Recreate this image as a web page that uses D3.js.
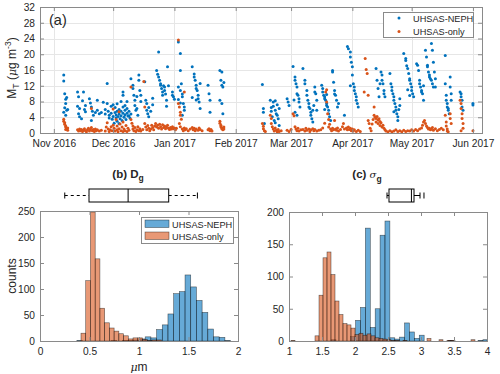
<!DOCTYPE html>
<html><head><meta charset="utf-8">
<script src="https://cdn.jsdelivr.net/npm/d3@7"></script>
<style>
body{margin:0;background:#fff;}
svg{display:block;font-family:"Liberation Sans",Arial,sans-serif;}
</style></head>
<body><svg id="c" width="500" height="374"></svg>
<script>
// ---------------- DATA ----------------
// panel (a): [days since 2016-11-01, M_T]
const seriesNames = ["UHSAS-NEPH","UHSAS-only"];
const monthTicks = ["2016-11-01","2016-12-01","2017-01-01","2017-02-01","2017-03-01","2017-04-01","2017-05-01","2017-06-01"];
const massTicks = [0,4,8,12,16,20,24,28,32];
const nephPts = [
[5,14.7],[5,13.2],[5.5,10],[6,8.6],[6,7.5],[5.5,6.4],[6.5,5.8],[5,5.3],[6,4.5],[7,6],[6.5,9],
[12,10.4],[12.5,9.2],[12,6.8],[13,6.2],[12.5,4.9],[13,4.1],[14,3.6],[15,10.4],[15.5,6],[16,5.4],[14.5,8.2],[16,7],
[18,8.7],[18.5,7.6],[19,6.6],[19.5,5.5],[20,4.5],[19,3.2],[21,5.2],[22,5.8],[22,8.3],[23,4.9],[24,5.2],
[25,7.8],[26,6],[26,4.8],[27,12.6],[27,7.5],[27.5,5.5],[28,4.5],[28,3.8],[29,6.8],[29,5],[29.5,3.5],[30,7.2],[30,4.2],[30.5,2.5],
[31,6.5],[31,5.2],[31.5,4.6],[31.5,3.8],[32,7.4],[32,5.5],[32,3],[32.5,4.2],[33,6],[33,4.8],[33,2.4],[33.5,3.6],[34,8],[34,5.5],[34,4.4],[34.5,3.2],[35,10.4],[35,9.6],[35,6.6],[35,5],[35.5,4],[36,7],[36,5.8],[36,4.6],[36.5,3.4],[37,8],[37,6.2],[37,5],[37.5,4.3],[38,5.5],[38,4.4],[38.5,3.8],[39,4.8],
[39,13.8],[40,12.1],[40,11.3],[40.5,9.6],[41,8.3],[41,7],[41.5,5.8],[42,9.3],[42,6.2],[42.5,4.5],[43,14.7],[43,13.4],[43.5,10.8],[44,9.6],[44,8],
[46,13],[46.5,8.3],[47,7.5],[47,5.8],[47.5,4.9],[48,4.1],[48,6.5],[49,5.5],[50,8.8],[50,7.2],
[52,15.9],[52.5,14.9],[53,20.6],[53,14.2],[53.5,13.4],[54,12.5],[54,12.1],[54.5,11.3],[55,10.4],[55,9.6],[55.5,12],[56,11.7],[56,10.8],[56.5,9.9],[57,8.3],[57,6.8],[57.5,16.8],[58,12],
[60,10.4],[60,9.6],[60.5,9.2],[61,8.6],
[63,23.1],[64,20.2],[64,15.9],[64.5,12.5],[63,11.7],[64,10.8],[65,9.9],[65,9.2],[65.5,7.5],[66,6.6],[66,5.8],[65,4.5],[64,7.6],[63,8.5],
[70,16.8],[71,15],[71,14.2],[71.5,13.4],[72,12.1],[72,11.3],[72.5,10.8],[73,9.6],[73,8.7],[73.5,7.9],[74,6.2],[74,12.6],[70,9],[72,8.4],
[78,12.1],[78.5,10],[79,8.3],[79,5.3],
[84,15.9],[85,15.5],[84.5,13.4],[85,12.1],[85.5,11.7],[84,8.3],[85,7.5],[85.5,4.9],[86,12.8],
[105.5,12.3],[106,6.2],[106,5.3],[106.5,2.4],
[109.5,8.3],[110,6.5],[110,5.5],[110.5,4.1],[111,7.9],[111,6.8],[111.5,3.2],[112,8.2],[112,5.8],[112.5,4.9],[113,7.2],[113,4.5],[113.5,3.6],[114,6.2],[114,1.9],[112,2.6],
[118,8.7],[118.5,7.9],[119,7],
[121,16.9],[122,14.2],[122,13.4],[122.5,12.5],[123,11.7],[123,10],[123.5,9.6],[124,8.7],[124,7.9],[124.5,6.6],[122,5.3],[123,4.5],[121.5,8.4],
[126,16.4],[127,13.4],[127,12.5],[128,10.8],[128,9.6],[128.5,8.3],[129,7.5],[129,6.6],[129.5,6.2],[130,5.3],[130,4.5],[130.5,3.6],[131,2.8],[131,5.8],[132,11.7],[132,10.4],[132.5,10],[133,8.3],[133,5.8],[131.5,7],
[135.5,12.1],[136,11.3],[136,10.4],[136.5,9.6],[137,9.2],[137,8.7],[137.5,8.3],[138,7.5],[138,7],[138.5,6.6],[139,5.8],[139,4.9],[139.5,4.1],[140,3.2],[137,6],[138,9.8],
[141,15.9],[141,15.5],[141.5,12.9],[142,10.8],[142,9.9],[142.5,9.6],[143,8.3],[143.5,6.6],[144,7.5],
[147,4.5],
[148.5,22],[149,21.4],[150,20.6],[150,19.3],[150.5,18],[151,16.8],[151,14.7],[151.5,12.5],[152,11.7],[152,10.8],[152.5,10],[153,9.2],[153,8.3],[153.5,7.5],[154,6.6],[150,12],
[163,16.4],[163.5,13.4],[164,11.3],[164.5,9.2],[165,12.5],[165.5,15.5],[166,14.7],[166,13.4],[166.5,12.5],[167,10.8],[167,10],[167.5,9.2],
[170,15.1],[170.5,12.5],[171,11.7],[171,10.8],[171.5,10],[172,9.2],[172,8.3],[172.5,7.5],[173,6.6],[173,5.8],[173.5,4.9],[174,4.1],[174,3.2],[175,8.7],[175,7],[174.5,6],[172,5.4],
[177,20.2],[178,18.9],[178,18.4],[178.5,17.1],[179,16.4],[179.5,15.1],[180,13.8],[180,13.4],[180.5,12.5],[181,11.7],[181,10.8],[181.5,10],[182,9.2],[179,11],[180,9.5],
[183.5,17.6],[184,17.2],[184.5,15.9],[185,13.4],[185,12.5],[185.5,11.7],[186,10.8],[186,10.4],[186.5,10],[187,8.3],[187,12],
[188,21],[188.5,19.3],[189,17.2],[189,16.8],[189.5,15.5],[190,14.7],[190,14.2],[190.5,13.8],[191,13.4],[191.5,12.5],[192,11.7],[191,22.7],[191.5,21],[192,18],[192.5,15.5],[193,13.8],[193,11.7],
[198,19.7],[198,12.5],[198.5,9.6],[198.5,8.3],[199,7.5],[199,6.6],[199.5,6.2],[199.5,5.8],[200,4.9],[200.5,14.2],[200.5,11.7],[201,10],[201,8.3],
[205.5,10.4],[206,10],[206,9.2],[206.5,8.3],[206.5,6.6],[207,5.8],
[212,7.5],[212,7.1]
];
const onlyPts = [
[5,3.5],[5,3],[5.5,2.6],[5.5,2.2],[6,1.8],[6,1.5],[6.5,1.2],[6,0.9],[7,0.7],[7,1.3],
[12,0.8],[12.5,0.5],[13,1],[13.5,0.6],[14,0.9],[14.5,0.4],[15,0.7],[15.5,1.1],[16,0.6],[16.5,0.3],[17,0.8],[17.5,1.2],[18,0.5],[18.5,0.9],[19,6.2],[19,1.4],[19.5,0.6],[20,0.9],[20.5,0.4],[21,1],[21.5,0.6],[22,0.8],[23,0.5],[24,0.7],
[26,0.5],[26.5,1.5],[27,2.6],[27.5,1],[28,0.4],[28.5,0.8],[29,1.6],[29.5,0.6],[30,6.1],[30,2],[30.5,1.2],[31,0.5],[31.5,3.4],[32,1.8],[32,0.8],[32.5,0.3],[33,5.4],[33,1.1],[33.5,2.3],[34,0.6],[34.5,1.5],[35,0.4],[35,2.8],[35.5,1],[36,0.6],[36.5,1.9],[37,0.4],[37.5,1.2],[38,0.7],
[39,11.7],[39,3.4],[39.5,2.5],[40,1.8],[40,1],[40.5,0.6],[41,1.4],[41.5,0.4],[42,0.8],[42.5,1.6],[43,0.6],[43.5,1.1],[44,0.5],[45,0.9],[45.5,13.1],[46,6.6],[46,2.4],[46.5,1.5],[47,0.8],[47.5,1.9],[48,1.2],[48.5,0.6],[49,1],[49.5,2],[50,1.4],[50.5,0.8],
[51,1.8],[51.5,2.4],[52,1.5],[52.5,2],[53,1.2],[53.5,2.2],[54,1.6],[54.5,1],[55,2.1],[55.5,1.4],[56,1.8],[56.5,1.1],[57,1.5],[57.5,2],[58,1.2],[58.5,0.9],[59,1.4],[59.5,1],[60,1.6],[60.5,1.1],[61,1.3],[61.5,0.8],[62,1.2],
[63,23.6],[63,7.5],[63.5,6.6],[64,5.3],[64,4.5],[64.5,3.5],[63.5,2.4],[64,1.6],[65,1],[65.5,0.6],[66,10.4],[66,1.3],[66.5,0.8],[67,1.1],
[68,0.6],[69,1],[70,1.4],[70.5,0.8],[71,1.2],[71.5,0.6],[72,1],[73,0.7],[73.5,1.3],[74,0.9],[75,0.6],[78,0.8],[78.5,1.1],[79,0.6],[79.5,0.9],[80,0.5],
[84,3],[84,2.5],[84.5,2],[84.5,1.6],[85,1.3],[85,1.1],[85.5,0.8],[86,1.5],[86,1],
[105.5,2.4],[106,1.7],[106,1.1],[106.5,0.6],[107,0.4],
[109.5,4.5],[110,3.7],[110,2.4],[110.5,1.6],[111,1],[111.5,0.5],[112,1.3],[112.5,0.7],[113,0.3],[113.5,0.9],[114,0.4],[115,0.6],
[118,0.7],[119,0.4],[120,0.9],[121,4.9],[121.5,4.4],[122,1.6],[122.5,1],[123,0.6],[123.5,1.2],[124,0.5],[125,0.8],
[126,0.9],[127,0.5],[127.5,1.2],[128,0.7],[129,1],[129.5,0.4],[130,0.8],[131,1.1],[131.5,0.6],[132,0.9],[133,0.5],[134,0.7],
[135,0.8],[136,1.3],[137,2.5],[137.5,10.4],[138,11],[138,7.9],[138.5,4.9],[139,3.4],[139.5,2.2],[139,1.5],[140,1],[140.5,0.6],[141,1.2],[141.5,0.8],[142,3.2],[142.5,1],[143,0.7],[143.5,1.3],[144,0.5],[145,0.9],[146,1.6],[146.5,2.4],[147,1],
[148,1.3],[148.5,0.8],[149,1.5],[149.5,0.9],[150,1.2],[150.5,0.6],[151,1],[151.5,0.5],[152,0.8],[153,0.4],[154,0.7],[155,0.4],
[157,10.4],[157.5,18.9],[158,16.1],[158.5,15.1],[159,9.6],[159,3.2],[159.5,2.4],[160,1.2],[160.5,0.6],
[161,2.3],[161.5,3.4],[162,4.5],[162,6.6],[162.5,4],[163,3.7],[163,2.8],[163.5,4.2],[164,3.3],[164,2.4],[164.5,3.6],[165,2.9],[165,1.9],[165.5,2.6],[166,1.5],[166.5,2],[167,1.2],[167.5,0.8],[168,0.5],
[169,0.3],[170,0.6],[171,0.3],[172,0.5],[173,0.8],[174,0.4],[175,0.6],[176,0.3],[177,0.7],[178,0.4],[179,0.6],[180,0.5],[181,0.8],
[182,0.5],[183,0.9],[184,0.6],[185,1],[186,1.3],[186.5,2],[187,2.8],[187.5,3.2],[188,2.4],[188.5,1.8],[189,1.4],[189.5,1],[190,1.2],[190.5,0.8],[191,1],[191.5,1.4],[192,0.7],[193,1.1],[194,0.6],[195,0.9],[196,1.2],[197,0.8],
[198,4.5],[198.5,2.8],[198.5,1.8],[199,1],[199,0.5],[199.5,0.3],[200.5,4.9],[200.5,3.7],[201,2.4],
[205.5,8.3],[206,7.5],[206,6.2],[206.5,4.9],[206.5,3.7],[207,2.4],[207,1.2],[206,0.6],
[212,0.6]
];

// panel (b): D_g histograms (bin start, bin width, counts)
const dgNephStart = 0.3725, dgNephWidth = 0.0575;
const dgNephCounts = [1,0,0,0,0,0,1,0,1,1,2,4,8,6,22,31,52,91,95,127,104,78,55,23,8,7,1];
const dgOnlyStart = 0.414, dgOnlyWidth = 0.0478;
const dgOnlyCounts = [15,116,248,158,63,35,25,19,14,10,4,6,6,3,1,2,2];
const dgXTicks = [0,0.5,1,1.5,2];
const dgYTicks = [0,50,100,150,200,250];
const dgBox = {lo:0.25, q1:0.495, med:0.89, q3:1.30, hi:1.59};

// panel (c): sigma_g histograms
const sgNephStart = 1.638, sgNephWidth = 0.0742;
const sgNephCounts = [2,0,0,0,7,32,52,175,21,50,164,186,5,3,6,28,14,4,9,0,0,0,0,0,1,0,0,0,0,0,1,2];
const sgOnlyStart = 1.0304, sgOnlyWidth = 0.0606;
const sgOnlyCounts = [1,0,0,0,0,0,8,71,129,138,103,62,41,27,25,20,10,12,9,11,8,5,4,3,2,1,1,0,1,0,0,0,0,0,4,0,0,2,0,1,1,0,0,0,0,2];
const sgXTicks = [1,1.5,2,2.5,3,3.5,4];
const sgYTicks = [0,50,100,150,200];
const sgBox = {lo:2.485, q1:2.515, med:2.855, q3:2.894, hi:2.985, out:3.045};

// ---------------- DRAW ----------------
const svg = d3.select("#c");
const C_BLUE = "#0072BD", C_ORANGE = "#D95319";
const AX = "#8a8a8a", TXT = "#262626", GRID = "#e6e6e6";
const TICK_FS = 10.2, LEG_FS = 9.2;

// ---- panel (a)
const base = Date.UTC(2016,10,1);
const dayToDate = d => new Date(base + d*864e5);
const xa = d3.scaleUtc().domain([Date.UTC(2016,9,25), Date.UTC(2017,5,5,14)]).range([40,482]);
const ya = d3.scaleLinear().domain([0,32]).range([133,7]);
const ga = svg.append("g");
const mt = monthTicks.map(s => new Date(s+"T00:00:00Z"));
ga.selectAll(".gx").data(mt).join("line").attr("x1",d=>Math.round(xa(d))+0.5).attr("x2",d=>Math.round(xa(d))+0.5)
  .attr("y1",7).attr("y2",133).attr("stroke",GRID);
ga.selectAll(".gy").data(massTicks).join("line").attr("y1",d=>Math.round(ya(d))+0.5).attr("y2",d=>Math.round(ya(d))+0.5)
  .attr("x1",40).attr("x2",482).attr("stroke",GRID);
ga.append("g").selectAll("circle").data(nephPts).join("circle")
  .attr("cx",d=>xa(dayToDate(d[0]))).attr("cy",d=>ya(d[1])).attr("r",1.5).attr("fill",C_BLUE);
ga.append("g").selectAll("circle").data(onlyPts).join("circle")
  .attr("cx",d=>xa(dayToDate(d[0]))).attr("cy",d=>ya(d[1])).attr("r",1.5).attr("fill",C_ORANGE);
function frame(g,x0,x1,y0,y1){
  g.append("rect").attr("x",x0+0.5).attr("y",y0+0.5).attr("width",x1-x0).attr("height",y1-y0)
   .attr("fill","none").attr("stroke",AX).attr("stroke-width",1);
}
frame(ga,40,482,7,133);
ga.append("g").attr("transform","translate(0,133)")
  .call(d3.axisBottom(xa).tickValues(mt).tickFormat(d3.utcFormat("%b %Y")).tickSizeInner(-4).tickSizeOuter(0).tickPadding(7));
ga.append("g").attr("transform","translate(0,7)")
  .call(d3.axisTop(xa).tickValues(mt).tickFormat("").tickSizeInner(-4).tickSizeOuter(0));
ga.append("g").attr("transform","translate(40,0)")
  .call(d3.axisLeft(ya).tickValues(massTicks).tickSizeInner(-4).tickSizeOuter(0).tickPadding(5));
ga.append("g").attr("transform","translate(482,0)")
  .call(d3.axisRight(ya).tickValues(massTicks).tickFormat("").tickSizeInner(-4).tickSizeOuter(0));
ga.append("text").attr("x",49).attr("y",25).attr("font-size",14.5).attr("fill",TXT).text("(a)");
const yl = ga.append("text").attr("transform","translate(16,68) rotate(-90)").attr("text-anchor","middle")
  .attr("font-size",12).attr("fill",TXT);
yl.append("tspan").text("M");
yl.append("tspan").attr("font-size",8.5).attr("dy",3).text("T");
yl.append("tspan").attr("dy",-3).text(" (");
yl.append("tspan").attr("font-style","italic").attr("font-family","'DejaVu Serif',serif").attr("font-size",11).text("μ");
yl.append("tspan").text("g m");
yl.append("tspan").attr("font-size",8.5).attr("dy",-5).text("-3");
yl.append("tspan").attr("dy",5).text(")");
const la = ga.append("g");
la.append("rect").attr("x",383.5).attr("y",12.5).attr("width",90).attr("height",25).attr("fill","#fff").attr("stroke",AX);
la.selectAll("circle").data(seriesNames).join("circle").attr("cx",399).attr("cy",(d,i)=>18+i*13.5).attr("r",1.5)
  .attr("fill",(d,i)=>i?C_ORANGE:C_BLUE);
la.selectAll("text").data(seriesNames).join("text").attr("x",413).attr("y",(d,i)=>21.5+i*13.5).attr("font-size",LEG_FS)
  .attr("fill",TXT).text(d=>d);

// ---- histogram panel helper
function histPanel(opt){
  const g = svg.append("g");
  const x = d3.scaleLinear().domain(opt.xd).range([opt.x0,opt.x1]);
  const y = d3.scaleLinear().domain(opt.yd).range([opt.y1,opt.y0]);
  const bins = (start,w,counts)=>counts.map((c,i)=>({a:start+i*w,b:start+(i+1)*w,c})).filter(d=>d.c>0 && d.a<opt.xd[1]);
  const defs = [[opt.neph,C_BLUE],[opt.only,C_ORANGE]];
  defs.forEach(([h,col])=>{
    g.append("g").selectAll("rect").data(bins(h[0],h[1],h[2])).join("rect")
      .attr("x",d=>x(d.a)).attr("width",d=>x(Math.min(d.b,opt.xd[1]))-x(d.a))
      .attr("y",d=>y(d.c)).attr("height",d=>y(0)-y(d.c))
      .attr("fill",col).attr("fill-opacity",0.6)
      .attr("stroke","#000").attr("stroke-opacity",0.6).attr("stroke-width",0.6);
  });
  frame(g,opt.x0,opt.x1,opt.y0,opt.y1);
  g.append("g").attr("transform",`translate(0,${opt.y1})`)
    .call(d3.axisBottom(x).tickValues(opt.xt).tickFormat(d3.format("~g")).tickSizeInner(-4).tickSizeOuter(0).tickPadding(7));
  g.append("g").attr("transform",`translate(0,${opt.y0})`)
    .call(d3.axisTop(x).tickValues(opt.xt).tickFormat("").tickSizeInner(-4).tickSizeOuter(0));
  g.append("g").attr("transform",`translate(${opt.x0},0)`)
    .call(d3.axisLeft(y).tickValues(opt.yt).tickSizeInner(-4).tickSizeOuter(0).tickPadding(5));
  g.append("g").attr("transform",`translate(${opt.x1},0)`)
    .call(d3.axisRight(y).tickValues(opt.yt).tickFormat("").tickSizeInner(-4).tickSizeOuter(0));
  const b = opt.box, by0 = 189, by1 = 202, bm = (by0+by1)/2;
  const bg = g.append("g").attr("stroke","#000").attr("stroke-width",1).attr("fill","none");
  bg.append("line").attr("x1",x(b.lo)).attr("x2",x(b.q1)).attr("y1",bm).attr("y2",bm).attr("stroke-dasharray",opt.dash);
  bg.append("line").attr("x1",x(b.q3)).attr("x2",x(b.hi)).attr("y1",bm).attr("y2",bm).attr("stroke-dasharray",opt.dash);
  bg.append("line").attr("x1",x(b.lo)).attr("x2",x(b.lo)).attr("y1",bm-3).attr("y2",bm+3);
  bg.append("line").attr("x1",x(b.hi)).attr("x2",x(b.hi)).attr("y1",bm-3).attr("y2",bm+3);
  if(b.out) bg.append("line").attr("x1",x(b.out)).attr("x2",x(b.out)).attr("y1",bm-3).attr("y2",bm+3);
  bg.append("rect").attr("x",x(b.q1)).attr("y",by0).attr("width",x(b.q3)-x(b.q1)).attr("height",by1-by0).attr("fill","#fff");
  bg.append("line").attr("x1",x(b.med)).attr("x2",x(b.med)).attr("y1",by0).attr("y2",by1);
  return {g,x,y};
}
histPanel({x0:40,x1:238,y0:211,y1:341,xd:[0,2],yd:[0,250],xt:dgXTicks,yt:dgYTicks,
  neph:[dgNephStart,dgNephWidth,dgNephCounts],only:[dgOnlyStart,dgOnlyWidth,dgOnlyCounts],box:dgBox,dash:"3,3"});
histPanel({x0:289,x1:487,y0:212,y1:341,xd:[1,4],yd:[0,200],xt:sgXTicks,yt:sgYTicks,
  neph:[sgNephStart,sgNephWidth,sgNephCounts],only:[sgOnlyStart,sgOnlyWidth,sgOnlyCounts],box:sgBox,dash:"none"});

const tb = svg.append("text").attr("x",128).attr("y",178).attr("text-anchor","middle").attr("font-size",11.5)
  .attr("font-weight","bold").attr("fill",TXT);
tb.append("tspan").text("(b) D"); tb.append("tspan").attr("font-size",8.5).attr("dy",3).text("g");
const tc = svg.append("text").attr("x",367).attr("y",178).attr("text-anchor","middle").attr("font-size",11.5)
  .attr("fill",TXT);
tc.append("tspan").attr("font-weight","bold").text("(c) ");
tc.append("tspan").attr("font-style","italic").attr("font-family","'DejaVu Serif',serif").attr("font-size",10).text("σ");
tc.append("tspan").attr("font-weight","bold").attr("font-size",8.5).attr("dy",4).text("g");

svg.append("text").attr("transform","translate(16,276) rotate(-90)").attr("text-anchor","middle")
  .attr("font-size",12).attr("fill",TXT).text("counts");
const mu = svg.append("text").attr("x",139).attr("y",371).attr("text-anchor","middle").attr("font-size",12).attr("fill",TXT);
mu.append("tspan").attr("font-style","italic").attr("font-family","'DejaVu Serif',serif").attr("font-size",11).text("μ");
mu.append("tspan").text("m");
const lb = svg.append("g");
lb.append("rect").attr("x",141.5).attr("y",217.5).attr("width",92).attr("height",26).attr("fill","#fff").attr("stroke",AX);
lb.selectAll(".sw").data(seriesNames).join("rect").attr("x",145).attr("y",(d,i)=>220+i*12).attr("width",24).attr("height",7.5)
  .attr("fill",(d,i)=>i?C_ORANGE:C_BLUE).attr("fill-opacity",0.6).attr("stroke","#000").attr("stroke-opacity",0.6).attr("stroke-width",0.6);
lb.selectAll("text").data(seriesNames).join("text").attr("x",172).attr("y",(d,i)=>227.5+i*12).attr("font-size",LEG_FS)
  .attr("fill",TXT).text(d=>d);

svg.selectAll(".tick text").attr("fill",TXT).attr("font-size",TICK_FS).attr("font-family","'Liberation Sans',Arial,sans-serif");
svg.selectAll(".tick line").attr("stroke",AX);
svg.selectAll(".domain").remove();
</script></body></html>
